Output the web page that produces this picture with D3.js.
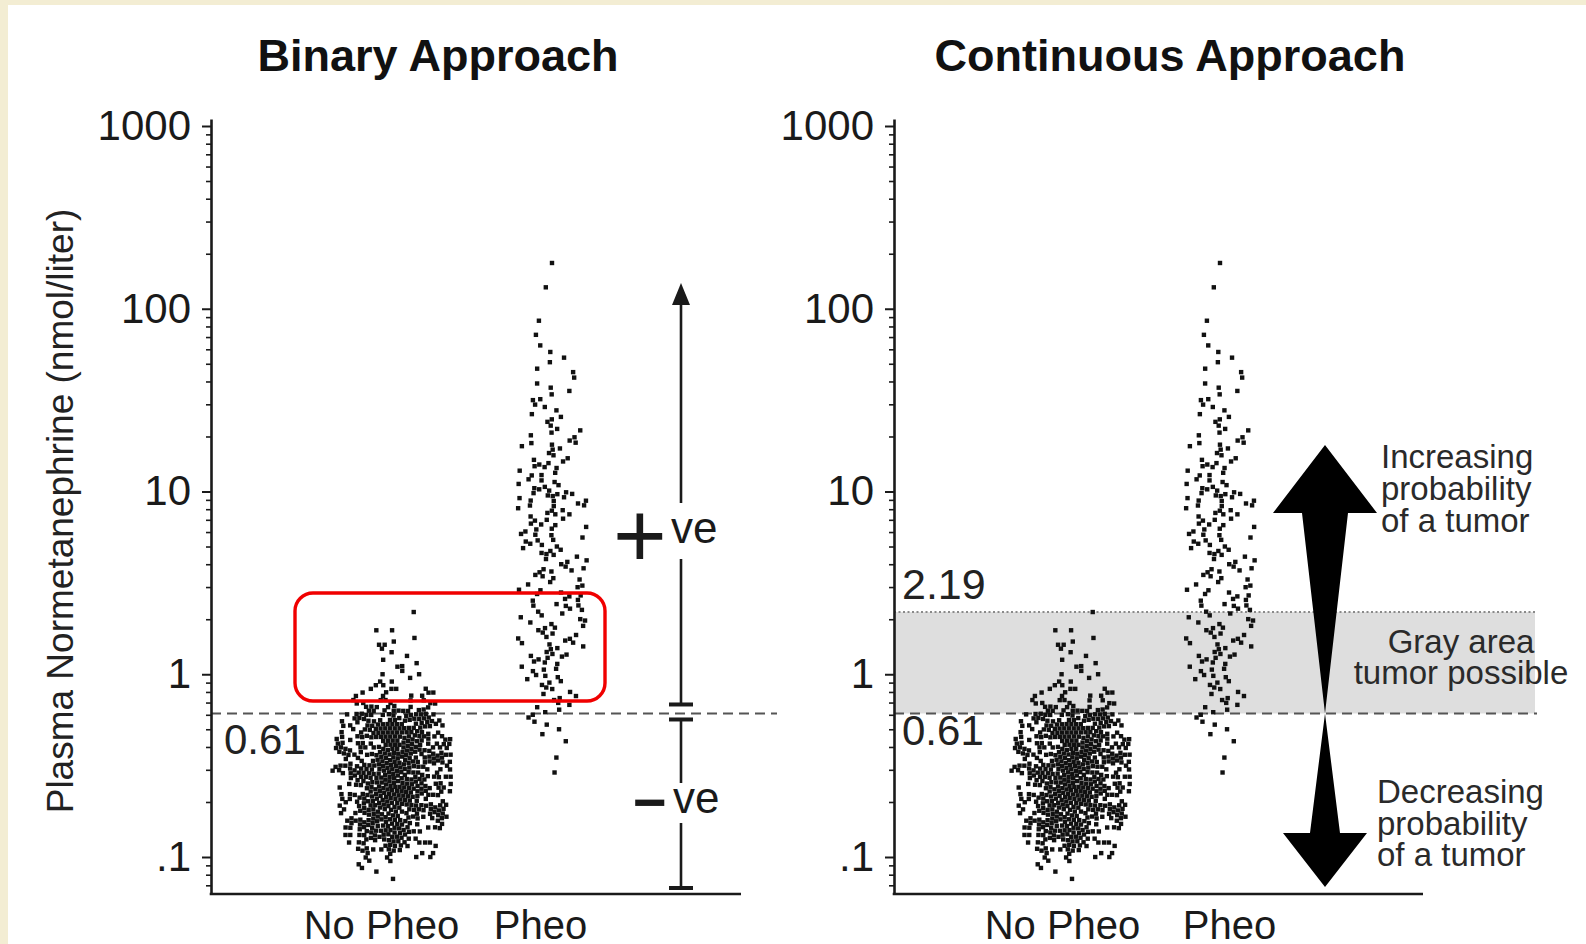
<!DOCTYPE html>
<html lang="en">
  <head>
    <meta charset="utf-8">
    <style>
      body{ margin:0; background:#f3edd3; }
      svg text{ font-family:"Liberation Sans", Arial, Helvetica, sans-serif; }
      .axis path, .axis line{ stroke:#1a1a1a; }
      .axis text{ fill:#1a1a1a; font-size:42px; }
    </style>
  </head>
  <body>
    <script src="https://cdn.jsdelivr.net/npm/d3@7"></script>
    <script>

      // ---- data ----
      var categories = ["No Pheo", "Pheo"];

      // No Pheo: number of dots in each thin horizontal band (band value in nmol/liter)
      var noPheoLevels = [0.0759, 0.0794, 0.0832, 0.0871, 0.0912, 0.0955, 0.100, 0.105, 0.110, 0.115,
                          0.120, 0.126, 0.132, 0.138, 0.145, 0.151, 0.158, 0.166, 0.174, 0.182,
                          0.191, 0.200, 0.209, 0.219, 0.229, 0.240, 0.251, 0.263, 0.275, 0.288,
                          0.302, 0.316, 0.331, 0.347, 0.363, 0.380, 0.398, 0.417, 0.437, 0.457,
                          0.479, 0.501, 0.525, 0.550, 0.575, 0.603, 0.631, 0.661, 0.692, 0.724,
                          0.759, 0.794, 0.832, 0.871, 0.912, 0.955, 1.00, 1.05, 1.10, 1.15,
                          1.20, 1.26, 1.32, 1.38, 1.45, 1.51, 1.58, 1.66, 1.74, 2.19];
      var noPheoCounts = [1, 0, 1, 1, 1, 2, 4, 4, 7, 7,
                          8, 9, 11, 11, 12, 12, 14, 14, 14, 14,
                          15, 15, 15, 15, 16, 16, 16, 16, 16, 16,
                          16, 16, 16, 16, 16, 16, 16, 15, 15, 15,
                          15, 14, 14, 12, 12, 11, 9, 7, 5, 5,
                          4, 4, 4, 2, 2, 1, 2, 1, 2, 1,
                          1, 1, 1, 1, 2, 1, 1, 0, 2, 1];

      // Pheo: individual patients
      var pheoValues = [178, 131, 86, 72, 63, 58, 54, 51, 47, 45, 42, 39, 37, 35.5, 34, 32, 31.5, 30,
                        29, 27.8, 26.5, 25.6, 24.8, 24, 23, 22, 21.6, 21, 20.3, 19.8, 19, 18.5, 18.4,
                        18, 17.7, 17.2, 16.9, 16.3, 15.8, 15.2, 14.9, 14.6, 14.3, 14, 13.8, 13.6, 13.4,
                        13, 12.7, 12.3, 12.1, 11.8, 11.5, 11.2, 11, 10.9, 10.6, 10.4, 10.3, 10.1, 9.9,
                        9.8, 9.7, 9.6, 9.5, 9.4, 9.3, 9.2, 9, 8.9, 8.8, 8.6, 8.5, 8.4, 8.2, 8.1, 7.9,
                        7.8, 7.7, 7.6, 7.5, 7.3, 7.1, 7.0, 6.9, 6.7, 6.6, 6.5, 6.4, 6.3, 6.2, 6.0,
                        5.9, 5.8, 5.7, 5.6, 5.5, 5.4, 5.3, 5.2, 5.1, 5.0, 4.9, 4.8, 4.7, 4.6, 4.55,
                        4.5, 4.4, 4.3, 4.2, 4.1, 4.0, 3.9, 3.8, 3.75, 3.7, 3.65, 3.6, 3.5, 3.45, 3.35,
                        3.3, 3.2, 3.1, 3.05, 3.0, 2.9, 2.88, 2.8, 2.75, 2.7, 2.65, 2.6, 2.55, 2.5,
                        2.42, 2.4, 2.38, 2.35, 2.3, 2.25, 2.2, 2.15, 2.1, 2.05, 2.0, 1.97, 1.92, 1.88,
                        1.84, 1.8, 1.78, 1.74, 1.7, 1.67, 1.64, 1.6, 1.57, 1.55, 1.53, 1.5, 1.48, 1.45,
                        1.42, 1.39, 1.36, 1.33, 1.3, 1.28, 1.26, 1.25, 1.23, 1.2, 1.18, 1.16, 1.13,
                        1.1, 1.08, 1.06, 1.03, 1.0, 0.98, 0.96, 0.94, 0.92, 0.9, 0.87, 0.85, 0.83,
                        0.8, 0.78, 0.76, 0.74, 0.72, 0.7, 0.68, 0.66, 0.64, 0.62, 0.6, 0.58, 0.55,
                        0.53, 0.5, 0.47, 0.43, 0.35, 0.29];

      var lowerCutoff = 0.61, upperCutoff = 2.19;
      var yTickValues = [0.1, 1, 10, 100, 1000];
      var yTickLabels = [".1", "1", "10", "100", "1000"];

      // ---- layout ----
      var W = 1586, H = 944;
      var axisTop = 119, axisBottom = 894;

      var y = d3.scaleLog().domain([0.1, 1000]).range([857, 126]);
      var yAxisScale = y.copy().domain([y.invert(axisBottom), y.invert(axisTop)]).range([axisBottom, axisTop]);

      var panels = [
        {title: "Binary Approach", titleX: 438, axisX: 211, axisEnd: 741,
         dotX: [393, 552], labelX: [381, 540]},
        {title: "Continuous Approach", titleX: 1170, axisX: 894, axisEnd: 1423,
         dotX: [1072, 1220], labelX: [1062, 1229]}
      ];

      var svg = d3.select("body").append("svg")
          .attr("width", W)
          .attr("height", H)
          .style("display", "block");

      svg.append("rect").attr("width", W).attr("height", H).attr("fill", "#f3edd3");
      svg.append("rect").attr("x", 8).attr("y", 5).attr("width", W - 8).attr("height", H - 5).attr("fill", "#fff");

      // jittered strip: spread follows the group's own density, then overlaps are relaxed
      function swarm(vals, half, floor, r){
          var L = vals.map(function(v){ return Math.log10(v); });
          var dens = L.map(function(l){
              var s = 0;
              L.forEach(function(q){ var d = (l - q) / 0.1; s += Math.exp(-0.5 * d * d); });
              return s;
          });
          var dmax = d3.max(dens);
          var nodes = vals.map(function(v, i){
              var hw = half * (floor + (1 - floor) * Math.sqrt(dens[i] / dmax));
              var u = (0.5 + i * 0.618034 + i * i * 0.0731) % 1;   // Weyl sequence, breaks lattice look
              var s = 2 * u - 1;
              var tx = Math.sign(s) * Math.pow(Math.abs(s), 1.35) * hw;
              return {v: v, tx: tx, ty: y(v), x: tx, y: y(v)};
          });
          d3.forceSimulation(nodes)
              .force("x", d3.forceX(function(d){ return d.tx; }).strength(0.3))
              .force("y", d3.forceY(function(d){ return d.ty; }).strength(0.6))
              .force("c", d3.forceCollide(r).iterations(1))
              .stop()
              .tick(160);
          return nodes;
      }

      var noPheoValues = [];
      noPheoLevels.forEach(function(v, i){
          for (var k = 0; k < noPheoCounts[i]; k++) noPheoValues.push(v);
      });

      var groups = [
          {name: categories[0], nodes: swarm(noPheoValues, 58, 0.3, 2.4)},
          {name: categories[1], nodes: swarm(pheoValues, 38, 0.12, 2.5)}
      ];

      panels.forEach(function(p, pi){
          var g = svg.append("g");
          var xDots = d3.scalePoint().domain(categories).range(p.dotX);
          var xLab = d3.scalePoint().domain(categories).range(p.labelX);

          // gray area (continuous approach only)
          if (pi === 1){
              g.append("rect")
                  .attr("x", p.axisX).attr("width", 1535 - p.axisX)
                  .attr("y", y(upperCutoff)).attr("height", y(lowerCutoff) - y(upperCutoff))
                  .attr("fill", "#dedede");
              g.append("line")
                  .attr("x1", p.axisX).attr("x2", 1535)
                  .attr("y1", y(upperCutoff)).attr("y2", y(upperCutoff))
                  .attr("stroke", "#8a8a8a").attr("stroke-width", 2).attr("stroke-dasharray", "2,2.5");
          }

          // 0.61 cut-off
          g.append("line")
              .attr("x1", p.axisX).attr("x2", pi === 0 ? 777 : 1537)
              .attr("y1", y(lowerCutoff)).attr("y2", y(lowerCutoff))
              .attr("stroke", "#555").attr("stroke-width", 2).attr("stroke-dasharray", "10,6");

          // dots
          groups.forEach(function(gr){
              g.append("g").selectAll("rect")
                  .data(gr.nodes)
                  .enter().append("rect")
                  .attr("x", function(d){ return xDots(gr.name) + d.x - 2.2; })
                  .attr("y", function(d){ return d.y - 2.2; })
                  .attr("width", 4.4).attr("height", 4.4)
                  .attr("fill", "#111");
          });

          // y axis: majors with labels, minors without
          var minor = [];
          [0.01, 0.1, 1, 10, 100].forEach(function(dec){
              for (var m = 2; m <= 9; m++) minor.push(dec * m);
          });
          minor = minor.filter(function(v){ return v > yAxisScale.domain()[0] && v < 1000; });

          g.append("g").attr("class", "axis")
              .attr("transform", "translate(" + p.axisX + ",0)")
              .call(d3.axisLeft(yAxisScale).tickValues(minor).tickFormat("").tickSize(5).tickSizeOuter(0))
              .call(function(a){ a.select(".domain").remove(); })
              .selectAll("line").attr("stroke-width", 1.6);

          var ya = g.append("g").attr("class", "axis")
              .attr("transform", "translate(" + p.axisX + ",0)")
              .call(d3.axisLeft(yAxisScale).tickValues(yTickValues)
                    .tickFormat(function(d, i){ return yTickLabels[i]; })
                    .tickSize(9).tickSizeOuter(0).tickPadding(11));
          ya.select(".domain").attr("stroke-width", 2.6);
          ya.selectAll("line").attr("stroke-width", 2);

          // x axis
          var xa = g.append("g").attr("class", "axis")
              .attr("transform", "translate(0," + axisBottom + ")")
              .call(d3.axisBottom(xLab).tickSize(0).tickSizeOuter(0));
          xa.select(".domain").remove();
          xa.selectAll("text").attr("y", 45).attr("dy", null).style("font-size", "40px");
          g.append("line")
              .attr("x1", p.axisX - 1.3).attr("x2", p.axisEnd)
              .attr("y1", axisBottom).attr("y2", axisBottom)
              .attr("stroke", "#1a1a1a").attr("stroke-width", 2.6);

          // title
          g.append("text")
              .attr("x", p.titleX).attr("y", 71)
              .attr("text-anchor", "middle")
              .style("font-size", "45px").style("font-weight", "bold").attr("fill", "#111")
              .text(p.title);
      });

      // y axis title
      svg.append("text")
          .attr("transform", "translate(73,511) rotate(-90)")
          .attr("text-anchor", "middle")
          .style("font-size", "37px").attr("fill", "#222")
          .text("Plasma Normetanephrine (nmol/liter)");

      // cut-off labels
      svg.append("text").attr("x", 224).attr("y", 754).style("font-size", "42px").attr("fill", "#222").text("0.61");
      svg.append("text").attr("x", 902).attr("y", 745).style("font-size", "42px").attr("fill", "#222").text("0.61");
      svg.append("text").attr("x", 902).attr("y", 599).style("font-size", "43px").attr("fill", "#222").text("2.19");

      // ---- binary approach: +ve / -ve bracket ----
      var bx = 681, cut = y(lowerCutoff);
      var br = svg.append("g").attr("stroke", "#1a1a1a").attr("stroke-width", 2.6);
      br.append("line").attr("x1", bx).attr("x2", bx).attr("y1", 300).attr("y2", 503);
      br.append("line").attr("x1", bx).attr("x2", bx).attr("y1", 559).attr("y2", cut - 9);
      br.append("line").attr("x1", bx - 12).attr("x2", bx + 12).attr("y1", cut - 9).attr("y2", cut - 9).attr("stroke-width", 4);
      br.append("line").attr("x1", bx - 12).attr("x2", bx + 12).attr("y1", cut + 6).attr("y2", cut + 6).attr("stroke-width", 4);
      br.append("line").attr("x1", bx).attr("x2", bx).attr("y1", cut + 6).attr("y2", 783);
      br.append("line").attr("x1", bx).attr("x2", bx).attr("y1", 823).attr("y2", 888);
      br.append("line").attr("x1", bx - 12).attr("x2", bx + 12).attr("y1", 888).attr("y2", 888).attr("stroke-width", 4);
      svg.append("path")
          .attr("d", "M" + bx + ",283 L" + (bx + 9) + ",305 L" + (bx - 9) + ",305 Z")
          .attr("fill", "#1a1a1a");

      var pos = svg.append("text").attr("fill", "#1a1a1a");
      pos.append("tspan").attr("x", 613).attr("y", 567).style("font-size", "92px").text("+");
      pos.append("tspan").attr("x", 671).attr("y", 543).style("font-size", "44px").text("ve");
      var neg = svg.append("text").attr("fill", "#1a1a1a");
      neg.append("tspan").attr("x", 633).attr("y", 822).style("font-size", "58px").style("font-weight", "bold").text("\u2212");
      neg.append("tspan").attr("x", 673).attr("y", 813).style("font-size", "44px").text("ve");

      // ---- continuous approach: probability arrow ----
      var cx = 1325;
      var arrowPts = [[cx, 445], [1377, 513], [1348, 513], [cx, cut], [1340, 833], [1367, 833],
                      [cx, 887], [1283, 833], [1310, 833], [cx, cut], [1302, 513], [1273, 513]];
      svg.append("path")
          .attr("d", d3.line()(arrowPts) + "Z")
          .attr("fill", "#000");

      function lines(x, ys, txt, anchor){
          var t = svg.append("text").attr("fill", "#2a2a2a").style("font-size", "33px")
              .attr("text-anchor", anchor || "start");
          txt.forEach(function(s, i){
              t.append("tspan").attr("x", x).attr("y", ys[i]).text(s);
          });
      }
      lines(1381, [468, 500, 532], ["Increasing", "probability", "of a tumor"]);
      lines(1461, [653, 684], ["Gray area", "tumor possible"], "middle");
      lines(1377, [803, 835, 866], ["Decreasing", "probability", "of a tumor"]);

      // red highlight box
      svg.append("rect")
          .attr("x", 295).attr("y", 593).attr("width", 310).attr("height", 108)
          .attr("rx", 18).attr("ry", 18)
          .attr("fill", "none").attr("stroke", "#f00000").attr("stroke-width", 3.4);
    </script>
  </body>
</html>
